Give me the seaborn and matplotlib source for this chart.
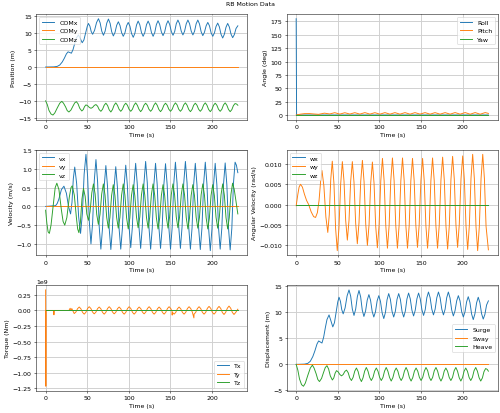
import matplotlib
matplotlib.use("Agg")
import matplotlib.pyplot as plt
import seaborn as sns

# --- values: (time s, value) ---
comx_pts = [
    (0, 0), (10, 0.05), (14, 0.2), (17, 0.6), (20, 1.5), (22.5, 2.6), (25, 3.9), (27, 4.5),
    (29, 4.3), (31, 4.1), (33, 5.2), (35, 7.0), (37, 8.6), (39.5, 9.5), (41.5, 8.5),
    (44, 7.2), (46, 8.0), (48, 10.0), (50, 12.0), (51.5, 12.9), (53.2, 12.1), (54.8, 10.5),
    (56.5, 9.7), (58.8, 10.85), (61.2, 13.15), (63.5, 14.3), (65.5, 13.1), (67.5, 10.6),
    (69.5, 9.4), (71.5, 10.6), (73.5, 13.0), (75.5, 14.2), (77.5, 12.95), (79.4, 10.45),
    (81.4, 9.2), (83.4, 10.25), (85.4, 12.35), (87.4, 13.4), (89.4, 12.3), (91.3, 10.2),
    (93.3, 9.1), (95.3, 10.1), (97.3, 12.2), (99.3, 13.2), (101.3, 12.1), (103.3, 9.9),
    (105.3, 8.8), (107.3, 10.0), (109.2, 12.4), (111.2, 13.6), (113.2, 12.5), (115.2, 10.2),
    (117.2, 9.1), (119.2, 10.2), (121.2, 12.5), (123.2, 13.6), (125.2, 12.5), (127.2, 10.2),
    (129.2, 9.1), (131.2, 10.25), (133.1, 12.55), (135.1, 13.7), (137.1, 12.6), (139.1, 10.4),
    (141.1, 9.3), (143.1, 10.4), (145.1, 12.6), (147.1, 13.7), (149.1, 12.6), (151.1, 10.5),
    (153.1, 9.4), (155.1, 10.5), (157.0, 12.8), (159.0, 13.9), (161.0, 12.8), (163.0, 10.6),
    (165.0, 9.5), (167.0, 10.6), (169.0, 12.8), (171.0, 13.9), (173.0, 12.8), (175.0, 10.6),
    (177.0, 9.5), (179.0, 10.6), (180.9, 12.8), (182.9, 13.9), (184.9, 12.75), (186.9, 10.45),
    (188.9, 9.3), (190.9, 10.3), (192.9, 12.2), (194.9, 13.2), (196.9, 12.2), (198.9, 10.1),
    (200.9, 9.1), (202.9, 10.1), (204.8, 12.0), (206.8, 13.0), (208.8, 11.9), (210.8, 9.7),
    (212.8, 8.6), (214.8, 9.7), (216.8, 11.8), (218.8, 12.9), (220.8, 11.85), (222.8, 9.75),
    (224.8, 8.7), (226.8, 9.6), (228.8, 11.4), (231, 12.2),
]

heave_pts = [
    (0, 0), (2, -1.1), (4, -2.8), (6.5, -3.9), (8.8, -4.2), (11, -3.6), (14, -2.1),
    (17, -0.7), (19.5, -0.15), (21.5, -0.7), (24, -1.8), (26, -2.9), (28, -3.3),
    (30.5, -2.7), (33, -1.5), (35, -0.6), (37, -0.25), (39, -0.9), (41, -2.2), (43.5, -3.0),
    (45.2, -2.6), (46.8, -1.7), (48.5, -1.2), (50.5, -1.45), (52.5, -1.95), (54.5, -2.2),
    (56.5, -1.95), (58.5, -1.35), (60.5, -1.1), (62.5, -1.6), (64.4, -2.6), (66.4, -3.1),
    (68.4, -2.5), (70.4, -1.3), (72.4, -0.7), (74.4, -1.35), (76.4, -2.65), (78.4, -3.3),
    (80.3, -2.6), (82.3, -1.3), (84.3, -0.6), (86.3, -1.3), (88.3, -2.5), (90.3, -3.1),
    (92.3, -2.5), (94.3, -1.3), (96.3, -0.7), (98.3, -1.3), (100.3, -2.5), (102.3, -3.1),
    (104.3, -2.5), (106.2, -1.3), (108.2, -0.6), (110.2, -1.3), (112.2, -2.5), (114.2, -3.2),
    (116.2, -2.55), (118.2, -1.3), (120.2, -0.7), (122.2, -1.3), (124.2, -2.5), (126.2, -3.1),
    (128.2, -2.5), (130.1, -1.3), (132.1, -0.6), (134.1, -1.3), (136.1, -2.55), (138.1, -3.2),
    (140.1, -2.55), (142.1, -1.3), (144.1, -0.7), (146.1, -1.3), (148.1, -2.5), (150.1, -3.1),
    (152.1, -2.5), (154.0, -1.3), (156.0, -0.6), (158.0, -1.2), (160.0, -2.5), (162.0, -3.1),
    (164.0, -2.5), (166.0, -1.2), (168.0, -0.6), (170.0, -1.3), (172.0, -2.55), (174.0, -3.2),
    (176.0, -2.55), (177.9, -1.3), (179.9, -0.7), (181.9, -1.3), (183.9, -2.5), (185.9, -3.1),
    (187.9, -2.5), (189.9, -1.2), (191.9, -0.6), (193.9, -1.3), (195.9, -2.55), (197.9, -3.2),
    (199.9, -2.55), (201.8, -1.3), (203.8, -0.7), (205.8, -1.3), (207.8, -2.5), (209.8, -3.1),
    (211.8, -2.5), (213.8, -1.2), (215.8, -0.6), (217.8, -1.3), (219.8, -2.55), (221.8, -3.2),
    (223.8, -2.6), (225.7, -1.4), (227.7, -0.8), (229.5, -0.95), (231, -1.3),
]
comz_start = -10.0

roll_pts = [(0, 180), (0.5, 0.1), (231, 0.1)]
pitch_pts = [
    (0, 0), (5, 1.6), (10, 2.6), (16, 2.7), (21, 2.0), (27, 1.3), (34, 3.5), (40.4, 2.0),
    (46.4, 4.4), (52.4, 1.7), (58.5, 4.3), (64.5, 1.8), (70.5, 4.4), (76.5, 1.7), (82.6, 4.5),
    (88.6, 1.7), (94.6, 4.4), (100.6, 1.6), (106.7, 4.5), (112.7, 1.6), (118.7, 4.5),
    (124.7, 1.6), (130.8, 4.5), (136.8, 1.6), (142.8, 4.5), (148.8, 1.7), (154.9, 4.5),
    (160.9, 1.6), (166.9, 4.5), (172.9, 1.6), (179.0, 4.5), (185.0, 1.6), (191.0, 4.6),
    (197.0, 1.6), (203.1, 4.6), (209.1, 1.5), (215.1, 4.6), (221.1, 1.5), (227.2, 4.6),
    (231, 3.0),
]
zero_pts = [(0, 0), (231, 0)]

vx_pts = [
    (0, 0), (12, 0.02), (14, 0.08), (16, 0.2), (19, 0.45), (22, 0.54), (25, 0.35),
    (27.5, 0.0), (30, -0.2), (31.7, 0.11), (33.3, 0.74), (35, 1.05), (37.3, 0.61),
    (39.7, -0.28), (42, -0.72), (44.2, -0.19), (46.3, 0.86), (48.5, 1.39), (50.5, 0.79),
    (52.5, -0.40), (54.5, -1.0), (56.5, -0.44), (58.5, 0.69), (60.5, 1.25), (62.5, 0.65),
    (64.4, -0.54), (66.4, -1.14), (68.4, -0.58), (70.4, 0.53), (72.4, 1.09), (74.4, 0.53),
    (76.4, -0.59), (78.4, -1.15), (80.3, -0.60), (82.3, 0.51), (84.3, 1.06), (86.3, 0.51),
    (88.3, -0.59), (90.3, -1.14), (92.3, -0.58), (94.3, 0.54), (96.3, 1.1), (98.3, 0.55),
    (100.3, -0.55), (102.3, -1.1), (104.3, -0.54), (106.2, 0.59), (108.2, 1.15),
    (110.2, 0.58), (112.2, -0.55), (114.2, -1.12), (116.2, -0.54), (118.2, 0.62),
    (120.2, 1.2), (122.2, 0.62), (124.2, -0.56), (126.2, -1.14), (128.2, -0.57),
    (130.1, 0.58), (132.1, 1.15), (134.1, 0.58), (136.1, -0.55), (138.1, -1.12),
    (140.1, -0.56), (142.1, 0.58), (144.1, 1.14), (146.1, 0.57), (148.1, -0.57),
    (150.1, -1.14), (152.1, -0.56), (154.0, 0.60), (156.0, 1.18), (158.0, 0.61),
    (160.0, -0.55), (162.0, -1.12), (164.0, -0.54), (166.0, 0.62), (168.0, 1.2),
    (170.0, 0.62), (172.0, -0.56), (174.0, -1.14), (176.0, -0.57), (177.9, 0.58),
    (179.9, 1.15), (181.9, 0.58), (183.9, -0.58), (185.9, -1.15), (187.9, -0.57),
    (189.9, 0.60), (191.9, 1.18), (193.9, 0.59), (195.9, -0.59), (197.9, -1.18),
    (199.9, -0.60), (201.8, 0.57), (203.8, 1.15), (205.8, 0.58), (207.8, -0.57),
    (209.8, -1.14), (211.8, -0.57), (213.8, 0.59), (215.8, 1.16), (217.8, 0.58),
    (219.8, -0.58), (221.8, -1.16), (223.8, -0.58), (225.7, 0.60), (227.7, 1.18),
    (229.3, 1.1), (231, 0.9),
]

vz_pts = [
    (0, -0.1), (1.5, -0.45), (3, -0.68), (4.5, -0.72), (6.5, -0.5), (9, 0.0), (11.5, 0.5),
    (13.5, 0.62), (16, 0.45), (19, -0.1), (21, -0.4), (23, -0.5), (25.5, -0.3), (28.5, 0.25),
    (30.5, 0.5), (32, 0.55), (34.5, 0.3), (37, -0.3), (38.5, -0.6), (40, -0.7), (41.8, -0.43),
    (43.7, 0.2), (45.5, 0.48), (47.5, 0.27), (49.5, -0.2), (51.5, -0.37), (53.5, -0.13),
    (55.5, 0.36), (57.5, 0.6), (59.5, 0.33), (61.4, -0.21), (63.4, -0.48), (65.4, -0.21),
    (67.4, 0.33), (69.4, 0.6), (71.4, 0.3), (73.4, -0.29), (75.4, -0.58), (77.3, -0.29),
    (79.3, 0.29), (81.3, 0.58), (83.3, 0.29), (85.3, -0.29), (87.3, -0.58), (89.3, -0.29),
    (91.3, 0.3), (93.3, 0.6), (95.3, 0.3), (97.3, -0.3), (99.3, -0.6), (101.2, -0.31),
    (103.2, 0.29), (105.2, 0.58), (107.2, 0.29), (109.2, -0.28), (111.2, -0.57),
    (113.2, -0.28), (115.2, 0.31), (117.2, 0.6), (119.2, 0.3), (121.2, -0.29), (123.2, -0.58),
    (125.1, -0.29), (127.1, 0.31), (129.1, 0.6), (131.1, 0.3), (133.1, -0.3), (135.1, -0.6),
    (137.1, -0.31), (139.1, 0.29), (141.1, 0.58), (143.1, 0.29), (145.1, -0.29),
    (147.1, -0.58), (149.0, -0.28), (151.0, 0.31), (153.0, 0.6), (155.0, 0.31),
    (157.0, -0.28), (159.0, -0.57), (161.0, -0.28), (163.0, 0.31), (165.0, 0.6), (167.0, 0.3),
    (169.0, -0.3), (171.0, -0.6), (172.9, -0.31), (174.9, 0.29), (176.9, 0.58), (178.9, 0.29),
    (180.9, -0.29), (182.9, -0.58), (184.9, -0.29), (186.9, 0.31), (188.9, 0.6), (190.9, 0.3),
    (192.9, -0.3), (194.9, -0.6), (196.8, -0.31), (198.8, 0.29), (200.8, 0.58), (202.8, 0.29),
    (204.8, -0.29), (206.8, -0.58), (208.8, -0.28), (210.8, 0.31), (212.8, 0.6), (214.8, 0.3),
    (216.8, -0.3), (218.8, -0.6), (220.7, -0.3), (222.7, 0.32), (224.7, 0.62), (226.7, 0.45),
    (228.7, 0.15), (231, -0.2),
]

# angular velocity about y, in 1e-3 rad/s
wy_milli_pts = [
    (0, -0.3), (2, 2.5), (3.5, 4.3), (5.2, 5.0), (7.5, 4.3), (10, 2.5), (12.5, 1.0), (15, 0.0),
    (18, -1.8), (21, -3.0), (23.3, -3.2), (25.5, -2.0), (27.5, 1.0), (29.5, 6.0), (31, 8.4),
    (33.3, 4.6), (35.7, -3.1), (38, -6.9), (39.8, -2.5), (41.6, 6.3), (43.4, 10.7),
    (45.4, 5.2), (47.4, -5.9), (49.4, -11.4), (51.4, -5.9), (53.5, 5.1), (55.5, 10.6),
    (57.5, 5.75), (59.5, -3.95), (61.5, -8.8), (63.5, -3.95), (65.5, 5.75), (67.5, 10.6),
    (69.5, 5.5), (71.5, -4.6), (73.5, -9.7), (75.5, -4.55), (77.6, 5.75), (79.6, 10.9),
    (81.6, 5.65), (83.6, -4.85), (85.6, -10.1), (87.6, -4.95), (89.6, 5.35), (91.6, 10.5),
    (93.6, 5.2), (95.6, -5.4), (97.6, -10.7), (99.6, -5.2), (101.7, 5.9), (103.7, 11.4),
    (105.7, 5.85), (107.7, -5.25), (109.7, -10.8), (111.7, -5.2), (113.7, 5.9), (115.7, 11.5),
    (117.7, 5.9), (119.7, -5.2), (121.7, -10.8), (123.7, -5.2), (125.8, 5.9), (127.8, 11.5),
    (129.8, 5.9), (131.8, -5.2), (133.8, -10.8), (135.8, -5.25), (137.8, 5.85), (139.8, 11.4),
    (141.8, 5.9), (143.8, -5.1), (145.8, -10.6), (147.8, -5.1), (149.9, 5.9), (151.9, 11.4),
    (153.9, 5.85), (155.9, -5.25), (157.9, -10.8), (159.9, -5.2), (161.9, 5.9), (163.9, 11.5),
    (165.9, 5.9), (167.9, -5.2), (169.9, -10.8), (171.9, -5.2), (174.0, 6.1), (176.0, 11.7),
    (178.0, 6.0), (180.0, -5.3), (182.0, -11.0), (184.0, -5.3), (186.0, 6.2), (188.0, 11.9),
    (190.0, 6.3), (192.0, -5.0), (194.0, -10.6), (196.0, -4.95), (198.1, 6.35), (200.1, 12.0),
    (202.1, 6.2), (204.1, -5.3), (206.1, -11.1), (208.1, -5.2), (210.1, 6.5), (212.1, 12.4),
    (214.1, 6.45), (216.1, -5.45), (218.1, -11.4), (220.1, -5.45), (222.2, 6.45),
    (224.2, 12.4), (226.2, 6.45), (228.2, -5.4), (231, -11.2),
]

# torque about y, in 1e9 Nm
ty_giga_pts = [
    (0, 0.33), (0.3, -1.22), (0.6, 0.0), (9.6, 0.0), (10, -0.07), (10.4, 0.0), (28, 0.0),
    (29.5, 0.035), (30.5, 0.0), (31.5, 0.03), (32.5, 0.0), (34.4, -0.05), (36.4, -0.025),
    (38.4, 0.028), (40.4, 0.055), (42.4, 0.026), (44.4, -0.031), (46.4, -0.06), (48.4, -0.03),
    (50.4, 0.03), (52.4, 0.06), (54.4, 0.031), (56.4, -0.026), (58.4, -0.055), (60.4, -0.028),
    (62.4, 0.028), (64.4, 0.055), (66.4, 0.026), (68.4, -0.031), (70.4, -0.06), (72.4, -0.03),
    (74.4, 0.03), (76.4, 0.06), (78.4, 0.031), (80.4, -0.026), (82.4, -0.055), (84.4, -0.028),
    (86.4, 0.028), (88.4, 0.055), (90.4, 0.026), (92.4, -0.031), (94.4, -0.06), (96.4, -0.03),
    (98.4, 0.03), (100.4, 0.06), (102.4, 0.03), (104.4, -0.03), (106.4, -0.06),
    (108.4, -0.031), (110.4, 0.026), (112.4, 0.055), (114.4, 0.028), (116.4, -0.028),
    (118.4, -0.055), (120.4, -0.026), (122.4, 0.031), (124.4, 0.06), (126.4, 0.03),
    (128.4, -0.03), (130.4, -0.06), (132.4, -0.031), (134.4, 0.026), (136.4, 0.055),
    (138.4, 0.026), (140.4, -0.031), (142.4, -0.06), (144.4, -0.03), (146.4, 0.03),
    (148.4, 0.06), (150.4, 0.03), (151.9, -0.01), (152.1, -0.075), (152.4, -0.03),
    (154.4, -0.06), (156.4, -0.031), (158.4, 0.026), (160.4, 0.055), (162.4, 0.026),
    (164.4, -0.031), (166.4, -0.06), (168.4, -0.03), (170.4, 0.03), (172.4, 0.06),
    (174.4, 0.03), (176.4, -0.03), (178.2, -0.12), (178.4, -0.06), (180.4, -0.03),
    (182.4, 0.03), (184.4, 0.06), (186.4, 0.03), (188.4, -0.03), (190.4, -0.06),
    (192.4, -0.031), (194.4, 0.034), (196.4, 0.065), (198.4, 0.034), (200.4, -0.031),
    (202.4, -0.06), (204.4, -0.031), (206.4, 0.034), (208.4, 0.065), (210.4, 0.033),
    (212.4, -0.033), (214.4, -0.065), (216.4, -0.031), (218.4, 0.036), (220.4, 0.07),
    (222.4, 0.036), (224.4, -0.031), (226.4, -0.065), (228.4, -0.033), (231, 0.02),
]


def split(pts, scale=1.0, offset=0.0):
    return [p[0] for p in pts], [p[1] * scale + offset for p in pts]


colors = sns.color_palette("tab10")

panels = [
    ([(split(comx_pts), "COMx"), (split(zero_pts), "COMy"),
      (split(heave_pts, offset=comz_start), "COMz")], "Position (m)", "upper left"),
    ([(split(roll_pts), "Roll"), (split(pitch_pts), "Pitch"), (split(zero_pts), "Yaw")],
     "Angle (deg)", "upper right"),
    ([(split(vx_pts), "vx"), (split(zero_pts), "vy"), (split(vz_pts), "vz")],
     "Velocity (m/s)", "upper left"),
    ([(split(zero_pts), "wx"), (split(wy_milli_pts, scale=1e-3), "wy"), (split(zero_pts), "wz")],
     "Angular Velocity (rad/s)", "upper left"),
    ([(split(zero_pts), "Tx"), (split(ty_giga_pts, scale=1e9), "Ty"), (split(zero_pts), "Tz")],
     "Torque (Nm)", "lower right"),
    ([(split(comx_pts), "Surge"), (split(zero_pts), "Sway"), (split(heave_pts), "Heave")],
     "Displacement (m)", "center right"),
]

fig, axes = plt.subplots(3, 2, figsize=(500 / 45, 414 / 45))
for ax, (series, ylabel, loc) in zip(axes.flat, panels):
    for i, ((t, v), name) in enumerate(series):
        sns.lineplot(x=t, y=v, ax=ax, label=name, color=colors[i],
                     estimator=None, sort=False, linewidth=1.5)
    ax.set_xlabel("Time (s)")
    ax.set_ylabel(ylabel)
    ax.grid(True, linewidth=1.5, color="#d0d0d0")
    ax.legend(loc=loc)

fig.suptitle("RB Motion Data", fontsize=10, y=0.994)
fig.subplots_adjust(left=0.072, right=0.996, top=0.964, bottom=0.053,
                    wspace=0.185, hspace=0.28)
fig.savefig("out.png", dpi=45)
